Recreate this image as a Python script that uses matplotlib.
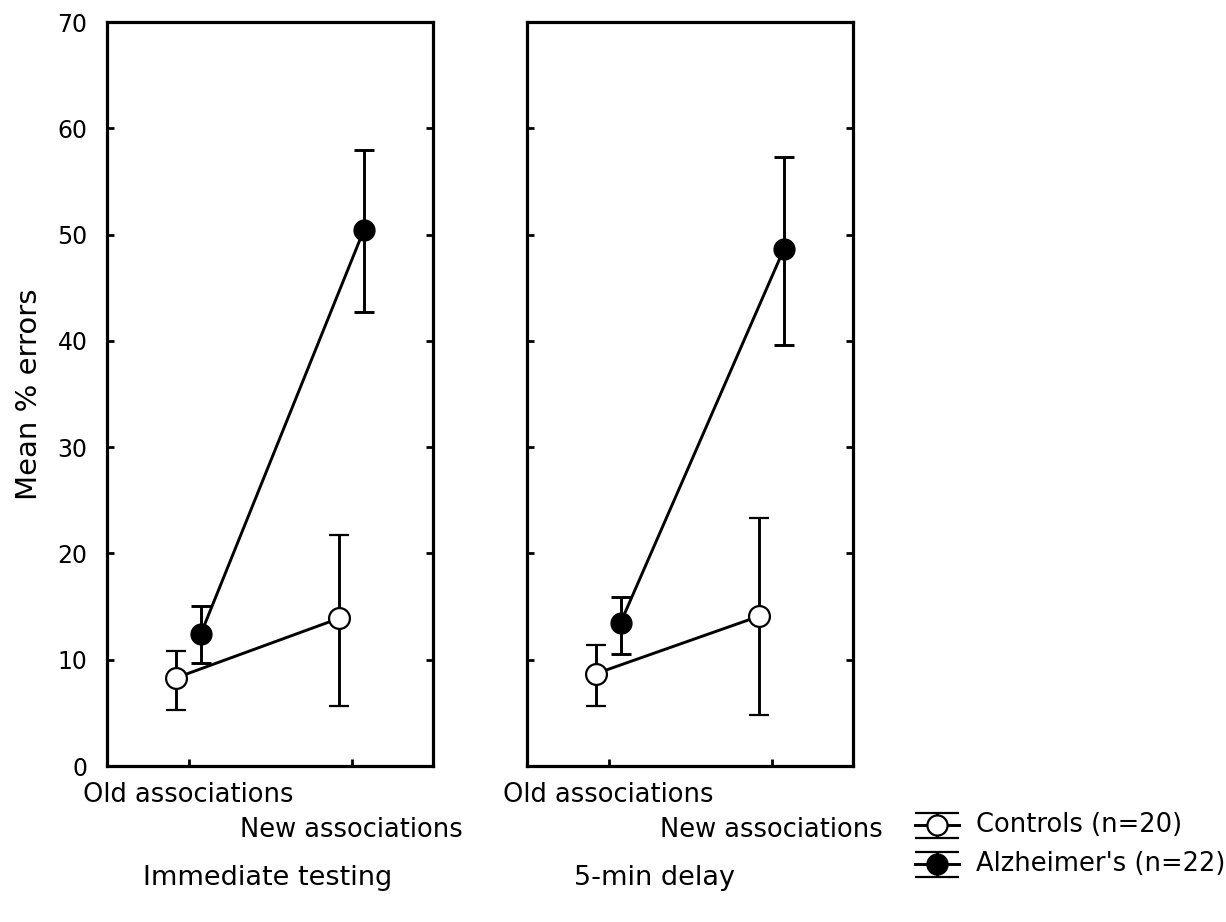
import matplotlib
matplotlib.use('Agg')
import matplotlib.pyplot as plt

# data
conditions = ['Immediate testing', '5-min delay']
ticklabels = ['Old associations', 'New associations']
groups = ['Controls (n=20)', "Alzheimer's (n=22)"]

ctrl_mean = [[8.3, 13.9], [8.7, 14.1]]
ctrl_lo = [[5.3, 5.6], [5.6, 4.8]]
ctrl_hi = [[10.8, 21.7], [11.4, 23.3]]

alz_mean = [[12.4, 50.4], [13.5, 48.6]]
alz_lo = [[9.7, 42.7], [10.5, 39.6]]
alz_hi = [[15.1, 58.0], [15.9, 57.3]]

W, H = 1226, 922
fig = plt.figure(figsize=(W / 100, H / 100), dpi=100)

font = 'DejaVu Sans'
lw = 2.1
off = 0.075

# left edge of each panel and x centre of its caption, in pixels
panels = [(107, 268), (527, 654)]
label_y = [-0.022, -0.068]   # staggered tick labels, axes fraction

axes = []
for i, (left_px, lab_x) in enumerate(panels):
    ax = fig.add_axes([left_px / W, (H - 766) / H, 326 / W, 744 / H])
    axes.append(ax)
    xs = [0, 1]
    xc = [x - off for x in xs]
    xa = [x + off for x in xs]

    # connecting lines
    ax.plot(xc, ctrl_mean[i], color='black', lw=lw, zorder=2)
    ax.plot(xa, alz_mean[i], color='black', lw=lw, zorder=2)

    cerr = [[m - l for m, l in zip(ctrl_mean[i], ctrl_lo[i])],
            [h - m for m, h in zip(ctrl_mean[i], ctrl_hi[i])]]
    aerr = [[m - l for m, l in zip(alz_mean[i], alz_lo[i])],
            [h - m for m, h in zip(alz_mean[i], alz_hi[i])]]
    ax.errorbar(xc, ctrl_mean[i], yerr=cerr, fmt='o', ms=15, mfc='white',
                mec='black', mew=1.6, ecolor='black', elinewidth=lw,
                capsize=7, capthick=lw, zorder=3)
    ax.errorbar(xa, alz_mean[i], yerr=aerr, fmt='o', ms=15, mfc='black',
                mec='black', ecolor='black', elinewidth=lw,
                capsize=7, capthick=lw, zorder=3)

    ax.set_xlim(-0.5, 1.5)
    ax.set_ylim(0, 70)
    ax.set_yticks(range(0, 71, 10))
    ax.set_xticks(xs)
    ax.set_xticklabels([])
    for x, t, yy in zip(xs, ticklabels, label_y):
        ax.text(x, yy, t, transform=ax.get_xaxis_transform(), ha='center',
                va='top', fontsize=18.5, family=font)
    ax.tick_params(axis='x', direction='in', length=5, width=2, top=False)
    ax.tick_params(axis='y', direction='in', length=5, width=2, pad=14,
                   left=True, right=True, labelsize=17, labelleft=(i == 0))
    for lbl in ax.get_yticklabels():
        lbl.set_family(font)
    for sp in ax.spines.values():
        sp.set_linewidth(2.3)

    ax.text((lab_x - left_px) / 326, (766 - 878) / 744, conditions[i],
            transform=ax.transAxes, ha='center', va='center',
            fontsize=19.5, family=font)

axes[0].set_ylabel('Mean % errors', fontsize=21, family=font, labelpad=10)

# legend
lg = fig.add_axes([900 / W, (H - 892) / H, 326 / W, 92 / H])
lg.set_xlim(900, 1226)
lg.set_ylim(892, 800)
lg.axis('off')
rows = [825, 864]
fills = ['white', 'black']
for y, g, fc in zip(rows, groups, fills):
    lg.plot([915, 959], [y, y], color='black', lw=lw, zorder=2)
    lg.errorbar([937], [y], yerr=[[12], [13]], fmt='o', ms=14.5, mfc=fc,
                mec='black', mew=1.6, ecolor='black', elinewidth=lw,
                capsize=15.5, capthick=lw, zorder=3)
    lg.text(976, y, g, ha='left', va='center', fontsize=18.5, family=font)

fig.savefig('out.png', dpi=100)
